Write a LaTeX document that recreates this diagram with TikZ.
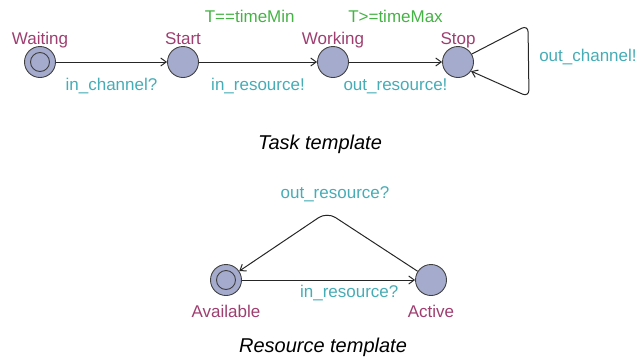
\documentclass[tikz,border=0pt]{standalone}
\usepackage{fontspec}
\setmainfont{Liberation Sans}
\usetikzlibrary{
	calc,
	arrows.meta,
	positioning,
}
\definecolor{locname}{RGB}{158,62,112}
\definecolor{locfill}{RGB}{165,171,205}
\definecolor{guardgreen}{RGB}{70,178,70}
\definecolor{syncteal}{RGB}{70,172,182}

\begin{document}
\begin{tikzpicture}[
	x=1pt, y=-1pt,
	font=\fontsize{17}{20}\selectfont,
	txt/.style={text height=12.5pt, text depth=4pt},
	loc/.style={circle, draw=black!75, fill=locfill, line width=0.9pt,
		minimum size=31pt, inner sep=0pt},
	initloc/.style={loc, path picture={
		\draw[black!75, line width=0.9pt] (path picture bounding box.center) circle (9.5pt);}},
	tagabove/.style={txt, text=locname, yshift=-6pt},
	tagbelow/.style={txt, text=locname, yshift=-6pt},
	guardl/.style={txt, text=guardgreen},
	syncl/.style={txt, text=syncteal},
	trans/.style={draw=black!85, line width=1pt, -{Straight Barb[length=5.5pt,width=8pt]}},
	caption/.style={font=\fontsize{20}{24}\selectfont\itshape, anchor=base},
]
\useasboundingbox (0,0) rectangle (641,357);

% task template
\node[initloc, label={[tagabove]above:Waiting}] (waiting) at (40,62) {};
\node[loc, label={[tagabove]above:Start}] (start) at (183,62) {};
\node[loc, label={[tagabove]above:Working}] (working) at (333,62) {};
\node[loc, label={[tagabove]above:Stop}] (stop) at (458,62) {};
\coordinate (loopa) at (528,25);
\coordinate (loopb) at (529,97);

\draw[trans] (waiting) -- node[syncl, below=12pt] {in\_channel?} (start);
\draw[trans] (start) -- node[syncl, below=12pt] {in\_resource!}
	node[guardl, above=32pt, pos=0.43] {T==timeMin} (working);
\draw[trans] (working) -- node[syncl, below=12pt] {out\_resource!}
	node[guardl, above=32pt] {T>=timeMax} (stop);
\draw[trans, rounded corners=7pt] (stop.30) -- (loopa)
	-- node[syncl, right=7pt, pos=0.45] {out\_channel!} (loopb) -- (stop.-35);

\node[caption] (tasktitle) at (320,149) {Task template};

% resource template
\node[initloc, label={[tagbelow]below:Available}] (available) at (226,280) {};
\node[loc, label={[tagbelow]below:Active}] (active) at (431,280) {};
\coordinate (peak) at (327,212);

\draw[trans] (available) -- node[syncl, below=1pt, pos=0.62] {in\_resource?} (active);
\draw[trans, rounded corners=10pt] (active) -- (peak)
	node[syncl, above=6pt, xshift=8pt] {out\_resource?} -- (available);

\node[caption] (restitle) at (323,352) {Resource template};
\end{tikzpicture}
\end{document}
